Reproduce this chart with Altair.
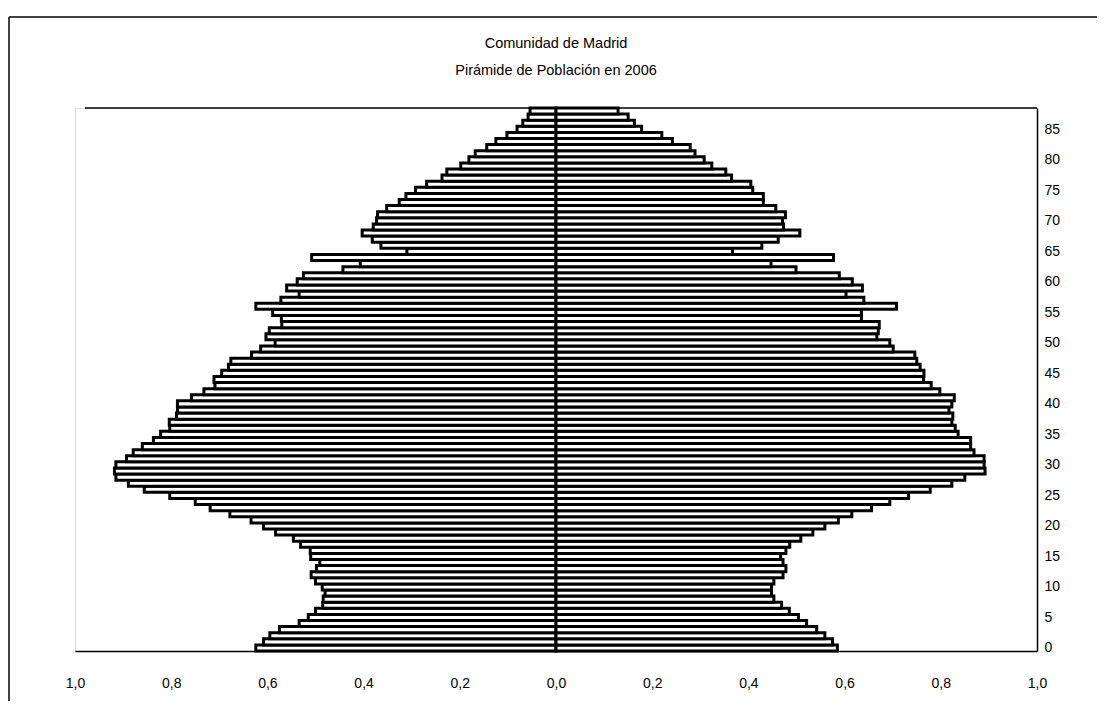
import altair as alt
import pandas as pd

ages = list(range(0, 89))

hombres = [0.624, 0.608, 0.595, 0.575, 0.534, 0.515, 0.500, 0.485, 0.484, 0.480,
           0.486, 0.500, 0.509, 0.498, 0.491, 0.510, 0.511, 0.531, 0.546, 0.583,
           0.608, 0.634, 0.678, 0.719, 0.750, 0.803, 0.856, 0.889, 0.915, 0.918,
           0.915, 0.893, 0.879, 0.860, 0.837, 0.822, 0.803, 0.804, 0.789, 0.787,
           0.787, 0.758, 0.732, 0.709, 0.711, 0.695, 0.681, 0.676, 0.633, 0.614,
           0.584, 0.603, 0.596, 0.570, 0.571, 0.589, 0.624, 0.572, 0.534, 0.560,
           0.538, 0.525, 0.443, 0.407, 0.508, 0.310, 0.364, 0.382, 0.403, 0.380,
           0.373, 0.371, 0.352, 0.326, 0.312, 0.292, 0.269, 0.237, 0.227, 0.198,
           0.181, 0.168, 0.144, 0.125, 0.102, 0.081, 0.069, 0.058, 0.054]

mujeres = [0.585, 0.575, 0.559, 0.542, 0.521, 0.504, 0.485, 0.469, 0.453, 0.448,
           0.448, 0.453, 0.472, 0.478, 0.472, 0.467, 0.478, 0.486, 0.509, 0.534,
           0.559, 0.587, 0.615, 0.656, 0.694, 0.733, 0.778, 0.823, 0.850, 0.892,
           0.890, 0.890, 0.869, 0.862, 0.862, 0.836, 0.830, 0.823, 0.825, 0.817,
           0.823, 0.828, 0.798, 0.780, 0.764, 0.765, 0.757, 0.750, 0.746, 0.701,
           0.694, 0.667, 0.670, 0.672, 0.635, 0.635, 0.708, 0.640, 0.603, 0.637,
           0.616, 0.589, 0.499, 0.447, 0.577, 0.367, 0.428, 0.462, 0.507, 0.473,
           0.471, 0.477, 0.457, 0.431, 0.431, 0.409, 0.405, 0.365, 0.353, 0.324,
           0.308, 0.289, 0.279, 0.242, 0.220, 0.178, 0.163, 0.150, 0.129]

x_ticks = [-1.0, -0.8, -0.6, -0.4, -0.2, 0.0, 0.2, 0.4, 0.6, 0.8, 1.0]
y_ticks = list(range(0, 90, 5))
title_lines = ["Comunidad de Madrid", "Pirámide de Población en 2006"]

rows = []
for a, h, m in zip(ages, hombres, mujeres):
    rows.append({"edad": a, "sexo": "Hombres", "v": -h, "cero": 0.0,
                 "lo": a - 0.5, "hi": a + 0.5})
    rows.append({"edad": a, "sexo": "Mujeres", "v": m, "cero": 0.0,
                 "lo": a - 0.5, "hi": a + 0.5})
df = pd.DataFrame(rows)

W, H = 962, 543
FONT = "Liberation Sans"

bars = alt.Chart(df).mark_rect(
    fill="white", stroke="black", strokeWidth=3
).encode(
    x=alt.X("v:Q",
            scale=alt.Scale(domain=[-1, 1], nice=False, zero=False),
            axis=alt.Axis(values=x_ticks, ticks=False, grid=False, title=None,
                          labelExpr="replace(format(abs(datum.value), '.1f'), '.', ',')",
                          labelPadding=25, labelFontSize=14, labelFont=FONT,
                          labelColor="black", domainColor="black", domainWidth=1.5,
                          labelFlush=False)),
    x2="cero:Q",
    y=alt.Y("lo:Q",
            scale=alt.Scale(domain=[-0.5, 88.5], nice=False, zero=False),
            axis=alt.Axis(orient="right", values=y_ticks, ticks=False, grid=False,
                          title=None, labelPadding=7, labelFontSize=14,
                          labelFont=FONT, labelColor="black", labelAlign="left",
                          domainColor="black", domainWidth=1.5)),
    y2="hi:Q",
)

one = pd.DataFrame({"k": [0]})
top_rule = alt.Chart(one).mark_rule(color="black", strokeWidth=1.5).encode(
    x=alt.value(10), x2=alt.value(W), y=alt.value(0)
)
frame_top = alt.Chart(one).mark_rule(color="black", strokeWidth=1.5).encode(
    x=alt.value(-66), x2=alt.value(W + 80), y=alt.value(-91)
)
frame_left = alt.Chart(one).mark_rule(color="black", strokeWidth=1.5).encode(
    x=alt.value(-66), y=alt.value(-91), y2=alt.value(H + 80)
)

chart = alt.layer(bars, top_rule, frame_top, frame_left).properties(
    width=W, height=H,
    title=alt.TitleParams(text=title_lines, fontSize=14.5, fontWeight="normal",
                          font=FONT, lineHeight=27, anchor="middle", offset=-62,
                          color="black"),
    autosize=alt.AutoSizeParams(type="none"),
    padding={"left": 67, "top": 100, "right": 60, "bottom": 50},
).configure_view(stroke=None).configure(background="white")

chart.save("out.html", embed_options={"renderer": "svg", "actions": False})
